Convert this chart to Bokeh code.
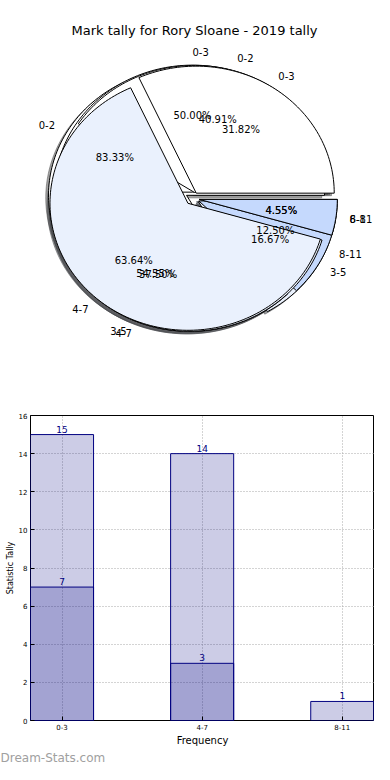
import numpy as np
from bokeh.plotting import figure
from bokeh.layouts import column
from bokeh.models import Range1d, Title, FixedTicker, ColumnDataSource
from bokeh.embed import file_html
from bokeh.resources import INLINE
from bokeh.core.properties import value

# ---------------- data ----------------
title_text = "Mark tally for Rory Sloane - 2019 tally"
watermark_text = "Dream-Stats.com"

pie1_labels = ["0-3", "4-7", "8-11"]
pie1_counts = [8, 6, 2]
pie2_labels = ["0-2", "3-5", "6-8"]
pie2_counts = [9, 12, 1]
pie4_labels = ["0-2", "3-5"]
pie4_counts = [5, 1]
pie3_labels = ["0-3", "4-7", "8-11"]
pie3_counts = [7, 14, 1]

bins = ["0-3", "4-7", "8-11"]
tally_a = [15, 14, 1]
tally_b = [7, 3, 0]

pie_colors = ["#ffffff", "#eaf1fd", "#c5d9fd"]
EXPLODE = 0.05
FONT = "DejaVu Sans"

# ---------------- shared layout ----------------
W = 374
BL, BR = 30, 0             # left / right borders (frames of both plots are aligned)

# ---------------- pie figure ----------------
H1 = 350
RX, RY = 138.0, 127.0      # pixels per unit radius
CX, CY = 192.0, 198.0      # pie centre in canvas pixels (from left / top)

p1 = figure(width=W, height=H1,
            x_range=Range1d((BL - CX) / RX, (W - BR - CX) / RX),
            y_range=Range1d(-(H1 - CY) / RY, CY / RY),
            x_axis_type=None, y_axis_type=None,
            output_backend="svg", toolbar_location=None,
            min_border_left=BL, min_border_right=BR, min_border_top=0, min_border_bottom=0)
p1.outline_line_color = None
p1.grid.visible = False


def wedges(counts):
    vals = np.asarray(counts, dtype=float)
    frac = vals / vals.sum()
    ends = np.cumsum(frac) * 2 * np.pi
    starts = ends - frac * 2 * np.pi
    return frac, starts, ends


def wedge_poly(t0, t1, e, ox=0.0, oy=0.0):
    tm = 0.5 * (t0 + t1)
    dx, dy = e * np.cos(tm), e * np.sin(tm)
    n = max(int((t1 - t0) / (2 * np.pi) * 240), 6)
    th = np.linspace(t0, t1, n)
    xs = np.concatenate([[0.0], np.cos(th), [0.0]]) + dx + ox
    ys = np.concatenate([[0.0], np.sin(th), [0.0]]) + dy + oy
    return list(xs), list(ys)


def shade(hexcol):
    r, g, b = (int(hexcol[i:i + 2], 16) for i in (1, 3, 5))
    return "#%02x%02x%02x" % (int(r * 0.3), int(g * 0.3), int(b * 0.3))


pies = [(pie4_labels, pie4_counts), (pie1_labels, pie1_counts),
        (pie2_labels, pie2_counts), (pie3_labels, pie3_counts)]

# shadows (below every wedge)
sx, sy, sc = [], [], []
for labels, counts in pies:
    frac, st, en = wedges(counts)
    for i in range(len(counts)):
        xs, ys = wedge_poly(st[i], en[i], EXPLODE, -0.02, -0.02)
        sx.append(xs); sy.append(ys); sc.append(shade(pie_colors[i % 3]))
p1.patches(sx, sy, fill_color=sc, fill_alpha=0.5, line_color=sc, line_alpha=0.5)

# wedges
for labels, counts in pies:
    frac, st, en = wedges(counts)
    wx, wy, wc = [], [], []
    for i in range(len(counts)):
        xs, ys = wedge_poly(st[i], en[i], EXPLODE)
        wx.append(xs); wy.append(ys); wc.append(pie_colors[i % 3])
    p1.patches(wx, wy, fill_color=wc, line_color="black", line_width=1)

# labels
for labels, counts in pies:
    frac, st, en = wedges(counts)
    tm = 0.5 * (st + en)
    lx = (1.1 + EXPLODE) * np.cos(tm)
    ly = (1.1 + EXPLODE) * np.sin(tm)
    px = (0.6 + EXPLODE) * np.cos(tm)
    py = (0.6 + EXPLODE) * np.sin(tm)
    left = np.cos(tm) > 0
    for mask, al in ((left, "left"), (~left, "right")):
        idx = np.where(mask)[0]
        if len(idx):
            p1.text(x=lx[idx], y=ly[idx], text=[labels[i] for i in idx],
                    text_align=al, text_baseline="middle",
                    text_font=value(FONT), text_font_size="10px", text_color="black")
    p1.text(x=px, y=py, text=["%.2f%%" % (f * 100) for f in frac],
            text_align="center", text_baseline="middle",
            text_font=value(FONT), text_font_size="10px", text_color="black")

p1.text(x=[(194 - CX) / RX], y=[(CY - 30) / RY], text=[title_text],
        text_align="center", text_baseline="middle",
        text_font=value(FONT), text_font_size="13px", text_color="black")

# ---------------- bar figure ----------------
H2 = 764 - H1
xpos = np.arange(len(bins))
p2 = figure(width=W, height=H2,
            x_range=Range1d(-0.225, len(bins) - 1 + 0.23), y_range=Range1d(0, 16),
            output_backend="svg", toolbar_location=None,
            min_border_left=BL, min_border_right=BR, min_border_top=415 - H1,
            min_border_bottom=0)
p2.outline_line_color = "black"
p2.outline_line_width = 1

src_a = ColumnDataSource(dict(x=xpos, top=tally_a, lab=[str(v) for v in tally_a]))
nz = [i for i, v in enumerate(tally_b) if v > 0]
src_b = ColumnDataSource(dict(x=xpos[nz], top=[tally_b[i] for i in nz],
                              lab=[str(tally_b[i]) for i in nz]))
for src in (src_a, src_b):
    p2.vbar(x="x", top="top", width=0.45, source=src,
            fill_color="navy", fill_alpha=0.2, line_color="navy", line_width=1)
    p2.text(x="x", y="top", text="lab", source=src, y_offset=-2,
            text_align="center", text_baseline="bottom",
            text_font=value(FONT), text_font_size="9px", text_color="navy")

p2.xaxis.ticker = FixedTicker(ticks=list(xpos))
p2.xaxis.major_label_overrides = {int(i): b for i, b in zip(xpos, bins)}
p2.yaxis.ticker = FixedTicker(ticks=list(range(0, 17, 2)))
for ax in (p2.xaxis, p2.yaxis):
    ax.major_label_text_font = FONT
    ax.major_label_text_font_size = "7px"
    ax.major_label_text_color = "black"
    ax.major_tick_in = 4
    ax.major_tick_out = 0
    ax.minor_tick_line_color = None
    ax.axis_line_color = None
    ax.major_label_standoff = 3
    ax.axis_label_text_font = FONT
    ax.axis_label_text_font_style = "normal"
    ax.axis_label_text_color = "black"
p2.xaxis.axis_label = "Frequency"
p2.xaxis.axis_label_text_font_size = "10px"
p2.xaxis.axis_label_standoff = 2
p2.yaxis.axis_label = "Statistic Tally"
p2.yaxis.axis_label_text_font_size = "8px"
p2.yaxis.axis_label_standoff = 1

p2.grid.grid_line_color = "#a8a8a8"
p2.grid.grid_line_dash = "1 2"
p2.grid.grid_line_width = 1

wm = Title(text=watermark_text, align="left", offset=-BL, standoff=0,
           text_font=FONT, text_font_size="12px", text_font_style="normal",
           text_color="#a0a0a0")
p2.add_layout(wm, "below")

layout = column(p1, p2, spacing=0)
open("out.html", "w").write(file_html(layout, INLINE))
